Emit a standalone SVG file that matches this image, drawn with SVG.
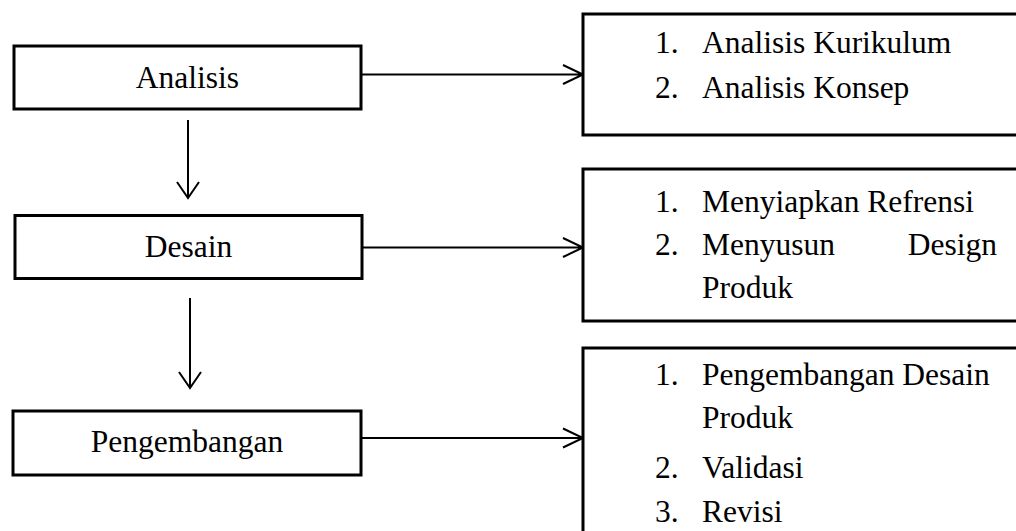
<svg xmlns="http://www.w3.org/2000/svg" width="1016" height="531" viewBox="0 0 1016 531">
<style>
.box{fill:#fff;stroke:#000;stroke-width:3}
.t{font-family:"Liberation Serif","Times New Roman",serif;font-size:31.5px;fill:#000}
.c{text-anchor:middle}
.ln{stroke:#000;stroke-width:2;fill:none}
</style>
<rect width="1016" height="531" fill="#fff"/>
<g id="connectors">
<path class="ln" d="M188 120V198M177 182L188 198L199 182"/>
<path class="ln" d="M190 298V388M179 372L190 388L201 372"/>
<path class="ln" d="M361 74.5H583M563 65L583 74.5L563 84"/>
<path class="ln" d="M362 247.5H583M563 238L583 247.5L563 257"/>
<path class="ln" d="M361 438H583M563 428.5L583 438L563 447.5"/>
</g>
<g id="analisis">
<rect class="box" x="14" y="46" width="347" height="63"/>
<text class="t c" x="187.5" y="88">Analisis</text>
</g>
<g id="desain">
<rect class="box" x="15" y="215.5" width="347" height="63"/>
<text class="t c" x="188.5" y="257">Desain</text>
</g>
<g id="pengembangan">
<rect class="box" x="13" y="411" width="348" height="64"/>
<text class="t c" x="187" y="452">Pengembangan</text>
</g>
<g id="list-analisis">
<rect class="box" x="583" y="14" width="440" height="121"/>
<text class="t" x="655" y="53">1.</text><text class="t" x="702" y="53">Analisis Kurikulum</text>
<text class="t" x="655" y="98">2.</text><text class="t" x="702" y="98">Analisis Konsep</text>
</g>
<g id="list-desain">
<rect class="box" x="583" y="169" width="440" height="152"/>
<text class="t" x="655" y="212">1.</text><text class="t" x="702" y="212">Menyiapkan Refrensi</text>
<text class="t" x="655" y="255">2.</text><text class="t" x="702" y="255">Menyusun</text><text class="t" x="997" y="255" text-anchor="end">Design</text>
<text class="t" x="702" y="298">Produk</text>
</g>
<g id="list-pengembangan">
<rect class="box" x="583" y="348" width="440" height="200"/>
<text class="t" x="655" y="385">1.</text><text class="t" x="702" y="385">Pengembangan Desain</text>
<text class="t" x="702" y="428">Produk</text>
<text class="t" x="655" y="478">2.</text><text class="t" x="702" y="478">Validasi</text>
<text class="t" x="655" y="522">3.</text><text class="t" x="702" y="522">Revisi</text>
</g>
</svg>
